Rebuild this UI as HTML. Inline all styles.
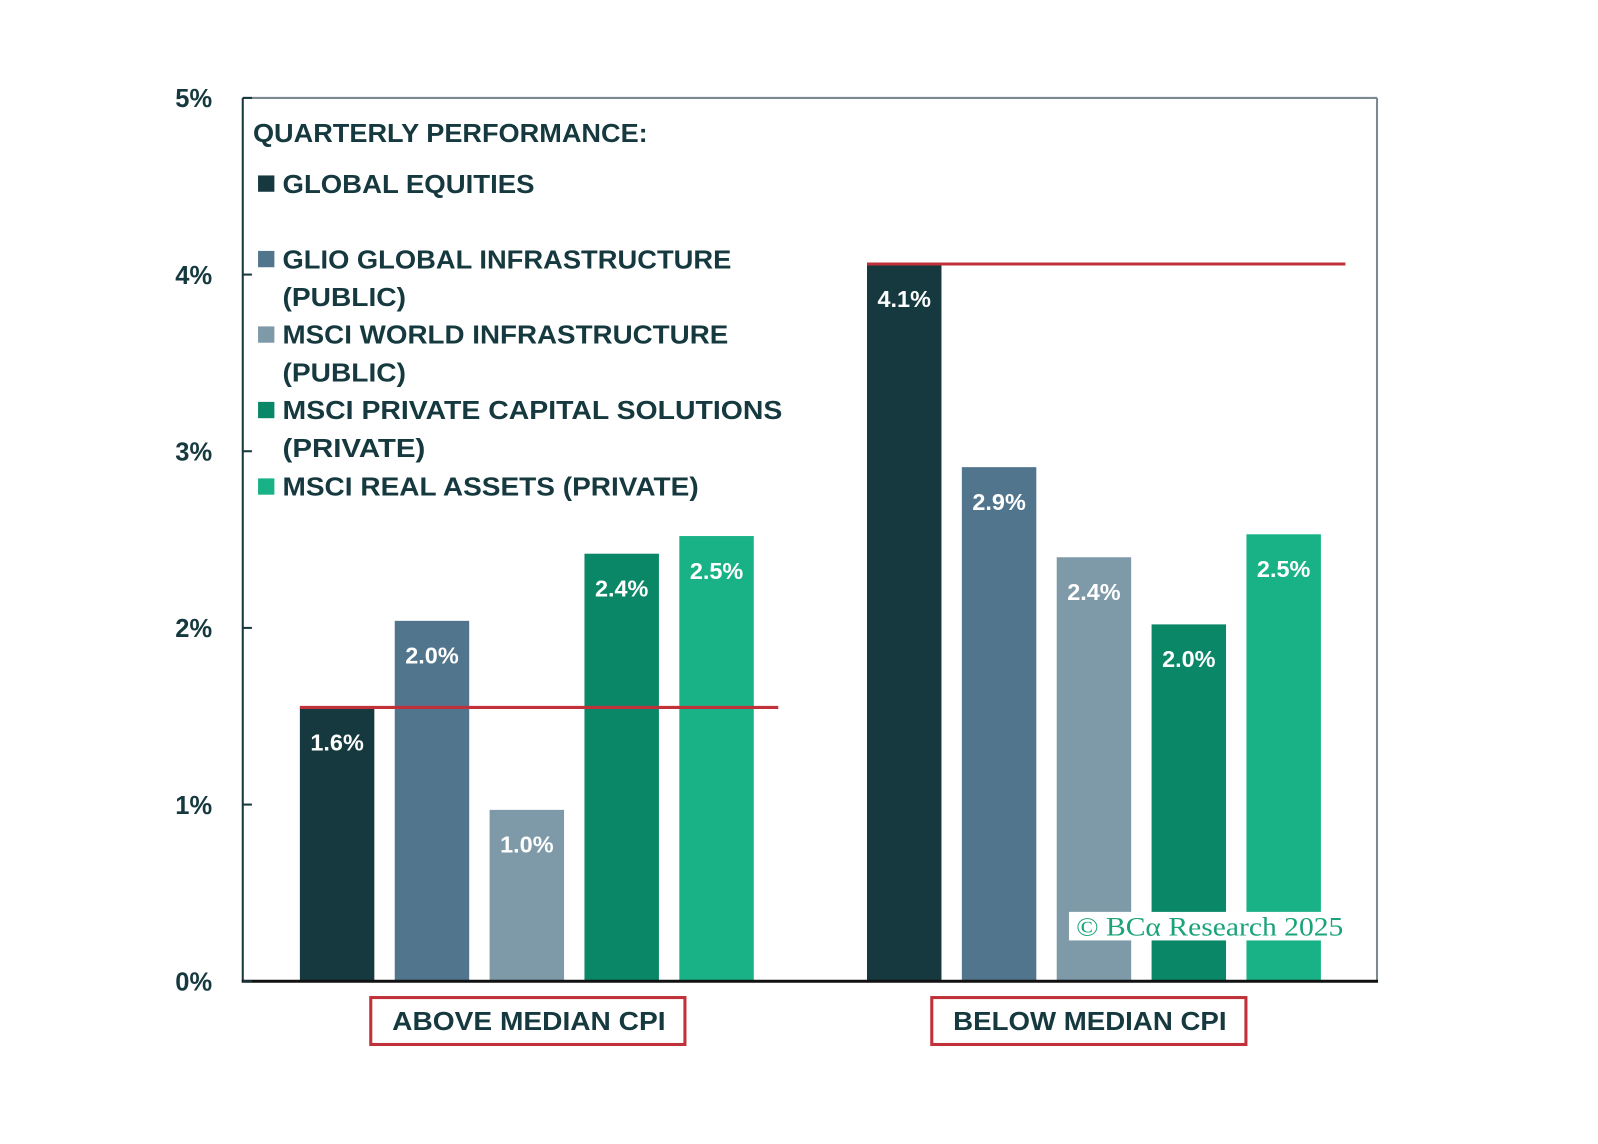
<!DOCTYPE html>
<html><head><meta charset="utf-8"><style>
html,body{margin:0;padding:0;background:#fff;}
svg{display:block;}
text{font-family:"Liberation Sans Narrow","Liberation Sans",sans-serif;font-weight:bold;}
</style></head><body>
<svg id="chart" width="1598" height="1144" viewBox="0 0 1598 1144" xmlns="http://www.w3.org/2000/svg">
<rect width="1598" height="1144" fill="#fff"/>
<g transform="scale(1.02)">
<g id="bars"></g>
<g id="axes"></g>
<g id="legend"></g>
</g>
</svg>
<script>
const categories = ["ABOVE MEDIAN CPI", "BELOW MEDIAN CPI"];
const seriesNames = ["GLOBAL EQUITIES", "GLIO GLOBAL INFRASTRUCTURE (PUBLIC)", "MSCI WORLD INFRASTRUCTURE (PUBLIC)", "MSCI PRIVATE CAPITAL SOLUTIONS (PRIVATE)", "MSCI REAL ASSETS (PRIVATE)"];
const aboveValues = [1.55, 2.04, 0.97, 2.42, 2.52];
const belowValues = [4.06, 2.91, 2.40, 2.02, 2.53];
const aboveLabels = ["1.6%", "2.0%", "1.0%", "2.4%", "2.5%"];
const belowLabels = ["4.1%", "2.9%", "2.4%", "2.0%", "2.5%"];
const yTicks = [0, 1, 2, 3, 4, 5];
const yTickLabels = ["0%", "1%", "2%", "3%", "4%", "5%"];

const colors = ["#15393e", "#51758c", "#7e9aa8", "#0a8767", "#19b287"];
const NS = "http://www.w3.org/2000/svg";
const plotL = 238, plotR = 1350, plotT = 96, plotB = 962;
const y = v => plotB - v * (plotB - plotT) / 5;
const groupStart = [294, 850], barStep = 93, barW = 73;
const boxShift = [0, -6];
const x = (g, i) => groupStart[g] + i * barStep;
function el(tag, attrs, parent) { const e = document.createElementNS(NS, tag); for (const k in attrs) e.setAttribute(k, attrs[k]); parent.appendChild(e); return e; }

const bars = document.getElementById('bars');
const axes = document.getElementById('axes');
const legend = document.getElementById('legend');
const allVals = [aboveValues, belowValues], allLabs = [aboveLabels, belowLabels];
const groupNames = ['above', 'below'];

for (let g = 0; g < 2; g++) {
  const vals = allVals[g];
  for (let i = 0; i < vals.length; i++) {
    const r = el('rect', {x: x(g, i), y: y(vals[i]), width: barW, height: plotB - y(vals[i]), fill: colors[i]}, bars);
    
    
    const t = el('text', {x: x(g, i) + barW / 2, y: y(vals[i]) + 42, 'text-anchor': 'middle', 'font-size': 23, fill: '#fff'}, bars);
    t.textContent = allLabs[g][i];
    
    
  }
  const ln = el('line', {x1: x(g, 0), x2: x(g, 4) + barW + 24, y1: y(vals[0]), y2: y(vals[0]), stroke: '#c0313a', 'stroke-width': 3}, bars);
  
  
  const cx = (x(g, 0) + x(g, 4) + barW) / 2 + boxShift[g];
  const box = el('rect', {x: cx - 153, y: 978, width: 308, height: 46, fill: '#fff', stroke: '#c0313a', 'stroke-width': 3}, axes);
  
  
  const ct = el('text', {x: cx + 2, y: 1010, 'text-anchor': 'middle', 'font-size': 25, fill: '#15393e', textLength: 268, lengthAdjust: 'spacingAndGlyphs'}, axes);
  ct.textContent = categories[g];
  
  
}

let f = el('line', {x1: plotL, x2: plotR, y1: plotT, y2: plotT, stroke: '#7a8a90', 'stroke-width': 2}, axes);
 
f = el('line', {x1: plotR, x2: plotR, y1: plotT, y2: plotB, stroke: '#7a8a90', 'stroke-width': 2}, axes);
 
f = el('line', {x1: plotL, x2: plotL, y1: plotT, y2: plotB, stroke: '#15393e', 'stroke-width': 2}, axes);
 
f = el('line', {x1: plotL - 1, x2: plotR + 1, y1: plotB, y2: plotB, stroke: '#111', 'stroke-width': 3}, axes);
 

for (let k = 0; k < yTicks.length; k++) {
  const tk = el('line', {x1: plotL, x2: plotL + 9, y1: y(yTicks[k]), y2: y(yTicks[k]), stroke: '#15393e', 'stroke-width': 2}, axes);
  
  
  const tl = el('text', {x: 208, y: y(yTicks[k]) + 9, 'text-anchor': 'end', 'font-size': 25, fill: '#15393e'}, axes);
  tl.textContent = yTickLabels[k];
  
  
}

const lt = el('text', {x: 248, y: 139, 'font-size': 25, fill: '#15393e', textLength: 387, lengthAdjust: 'spacingAndGlyphs'}, legend);
lt.textContent = 'QUARTERLY PERFORMANCE:';


const legLines = [[["GLOBAL EQUITIES", 247]], [["GLIO GLOBAL INFRASTRUCTURE", 440], ["(PUBLIC)", 121]], [["MSCI WORLD INFRASTRUCTURE", 437], ["(PUBLIC)", 121]], [["MSCI PRIVATE CAPITAL SOLUTIONS", 490], ["(PRIVATE)", 140]], [["MSCI REAL ASSETS (PRIVATE)", 408]]];
const legY = [189, 263, 337, 411, 486];
for (let i = 0; i < 5; i++) {
  const sw = el('rect', {x: 253, y: legY[i] - 17, width: 16, height: 16, fill: colors[i]}, legend);
  
  
  const t = el('text', {x: 277, y: legY[i], 'font-size': 25, fill: '#15393e'}, legend);
  
  
  legLines[i].forEach((p, j) => {
    const ts = el('tspan', {x: 277, dy: j ? 37 : 0, textLength: p[1], lengthAdjust: 'spacingAndGlyphs'}, t);
    ts.textContent = p[0];
  });
}

const wb = el('rect', {x: 1048, y: 894, width: 270, height: 28, fill: '#fff'}, legend);


const wm = el('text', {x: 1055, y: 917, 'font-size': 26, fill: '#1aa37a', textLength: 262, lengthAdjust: 'spacingAndGlyphs', style: 'font-family:"Liberation Serif",serif;font-weight:normal'}, legend);
wm.textContent = '© BCα Research 2025';


</script>
</body></html>
